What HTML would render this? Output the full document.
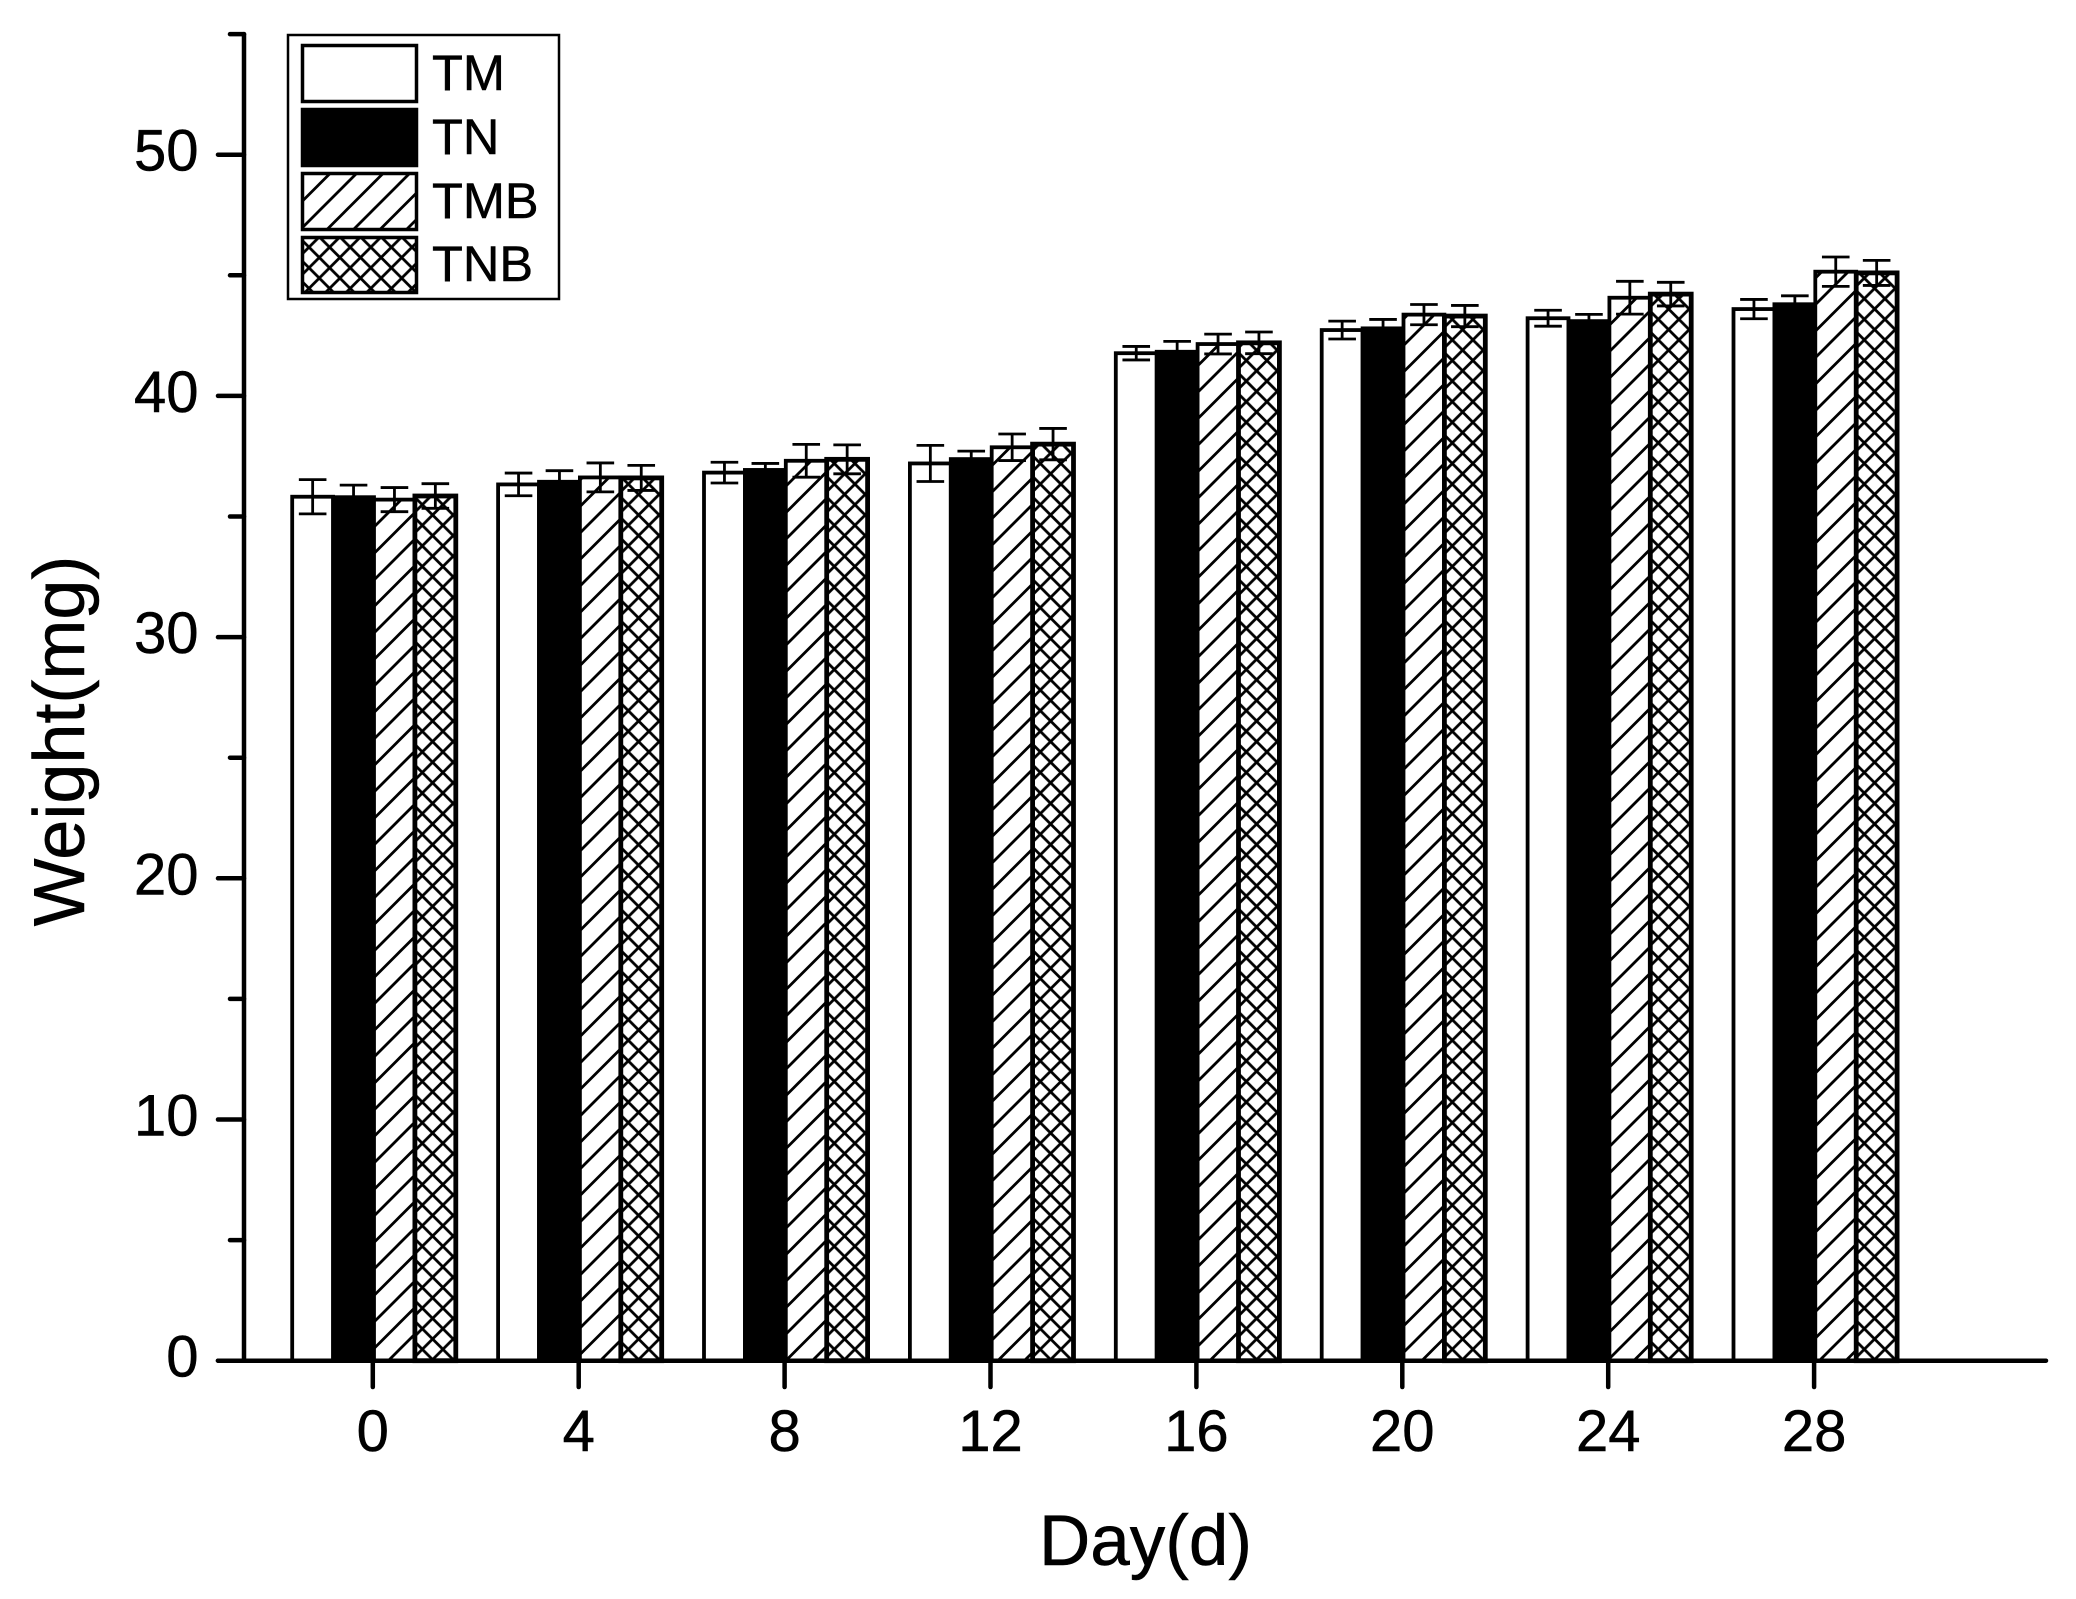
<!DOCTYPE html>
<html lang="en">
<head>
<meta charset="utf-8">
<title>Weight by Day</title>
<style>
html,body{margin:0;padding:0;background:#fff;}
svg{display:block;font-family:"Liberation Sans",Arial,sans-serif;fill:#000;}
text{stroke:#000;stroke-width:0.5px;}
</style>
</head>
<body>
<svg id="chart" xmlns="http://www.w3.org/2000/svg" width="2076" height="1599" viewBox="0 0 2076 1599">
  <defs>
    <pattern id="diag" patternUnits="userSpaceOnUse" width="26.5" height="26.5">
      <rect width="26.5" height="26.5" fill="#fff"/>
      <path d="M-4,30.5 L30.5,-4 M-4,4 L4,-4 M22.5,30.5 L30.5,22.5" stroke="#000" stroke-width="2.8" fill="none"/>
    </pattern>
    <pattern id="cross" patternUnits="userSpaceOnUse" width="20.6" height="20.6">
      <rect width="20.6" height="20.6" fill="#fff"/>
      <path d="M-2,22.6 L22.6,-2 M-2,2 L2,-2 M18.6,22.6 L22.6,18.6 M-2,-2 L22.6,22.6 M-2,18.6 L2,22.6 M18.6,-2 L22.6,2" stroke="#000" stroke-width="2.8" fill="none"/>
    </pattern>
  </defs>
  <rect width="2076" height="1599" fill="#fff"/>
  <g id="bars"></g>
  <g id="errors"></g>
  <g id="axes"></g>
  <text transform="translate(84,741) rotate(-90)" text-anchor="middle" font-size="72">Weight(mg)</text>
  <text x="1145.5" y="1565" text-anchor="middle" font-size="71">Day(d)</text>
  <g>
    <rect x="288" y="35" width="271" height="264" fill="#fff" stroke="#000" stroke-width="2.5"/>
    <rect x="302.5" y="45.5" width="114" height="56" fill="#fff" stroke="#000" stroke-width="3.5"/>
    <rect x="302.5" y="109.5" width="114" height="56" fill="#000" stroke="#000" stroke-width="3.5"/>
    <rect x="302.5" y="173.5" width="114" height="56" fill="url(#diag)" stroke="#000" stroke-width="3.5"/>
    <rect x="302.5" y="237.5" width="114" height="55" fill="url(#cross)" stroke="#000" stroke-width="3.5"/>
    <text x="432" y="90" font-size="50.5">TM</text>
    <text x="432" y="154" font-size="50.5">TN</text>
    <text x="432" y="218" font-size="50.5">TMB</text>
    <text x="432" y="281" font-size="50.5">TNB</text>
  </g>
</svg>
<script>
const days = [0, 4, 8, 12, 16, 20, 24, 28];
const seriesNames = ["tm", "tn", "tmb", "tnb"];
const tmValues = [35.82, 36.33, 36.82, 37.2, 41.77, 42.73, 43.22, 43.6];
const tnValues = [35.8, 36.44, 36.93, 37.38, 41.83, 42.8, 43.1, 43.8];
const tmbValues = [35.7, 36.62, 37.31, 37.87, 42.15, 43.37, 44.07, 45.15];
const tnbValues = [35.85, 36.6, 37.37, 38.0, 42.2, 43.31, 44.22, 45.1];
const tmErrors = [0.71, 0.47, 0.43, 0.75, 0.28, 0.37, 0.33, 0.4];
const tnErrors = [0.5, 0.46, 0.27, 0.33, 0.43, 0.37, 0.28, 0.35];
const tmbErrors = [0.5, 0.6, 0.68, 0.55, 0.41, 0.42, 0.68, 0.61];
const tnbErrors = [0.51, 0.52, 0.6, 0.65, 0.45, 0.44, 0.49, 0.52];
const yMajorTicks = [0, 10, 20, 30, 40, 50];
const yMinorTicks = [5, 15, 25, 35, 45, 55];

const allValues = [tmValues, tnValues, tmbValues, tnbValues];
const allErrors = [tmErrors, tnErrors, tmbErrors, tnbErrors];
const fills = ["#fff", "#000", "url(#diag)", "url(#cross)"];
const strokes = [3.8, 3.8, 3.8, 4.8];

const NS = "http://www.w3.org/2000/svg";
const yZero = 1360.7, yPerUnit = 24.12;
const xFirst = 372.8, xStep = 205.9, barWidth = 40.9;
function yScale(v) { return yZero - v * yPerUnit; }
function xScale(i) { return xFirst + i * xStep; }
function make(tag, attrs, parent) {
  const el = document.createElementNS(NS, tag);
  for (const k in attrs) el.setAttribute(k, attrs[k]);
  parent.appendChild(el);
  return el;
}
const barsG = document.getElementById("bars");
const errorsG = document.getElementById("errors");
const axesG = document.getElementById("axes");

days.forEach(function (day, i) {
  allValues.forEach(function (vals, s) {
    const left = xScale(i) + (s - 2) * barWidth;
    const top = yScale(vals[i]);
    const bar = make("rect", {x: left + 1.2, y: top, width: barWidth, height: yZero - top, fill: fills[s], stroke: "#000", "stroke-width": strokes[s]}, barsG);
    
    
  });
});

days.forEach(function (day, i) {
  allValues.forEach(function (vals, s) {
    const cx = xScale(i) + (s - 1.5) * barWidth + 1.2;
    const hi = yScale(vals[i] + allErrors[s][i]);
    const lo = yScale(vals[i] - allErrors[s][i]);
    const d = "M" + cx + "," + hi + "V" + lo + "M" + (cx - 13.8) + "," + hi + "H" + (cx + 13.8) + "M" + (cx - 13.8) + "," + lo + "H" + (cx + 13.8);
    const err = make("path", {d: d, stroke: "#000", "stroke-width": 2.8, fill: "none"}, errorsG);
    
    
  });
});

const yAxisLine = make("line", {x1: 244, x2: 244, y1: yScale(55), y2: yZero, stroke: "#000", "stroke-width": 4.5, "stroke-linecap": "round"}, axesG);


const xAxisLine = make("line", {x1: 218, x2: 2046, y1: yZero, y2: yZero, stroke: "#000", "stroke-width": 4.5, "stroke-linecap": "round"}, axesG);



yMajorTicks.forEach(function (v) {
  const tick = make("line", {x1: 218, x2: 244, y1: yScale(v), y2: yScale(v), stroke: "#000", "stroke-width": 4.5, "stroke-linecap": "round"}, axesG);
  
  
  const label = make("text", {x: 198.5, y: yScale(v) + 16, "text-anchor": "end", "font-size": 58}, axesG);
  label.textContent = String(v);
  
  
});
yMinorTicks.forEach(function (v) {
  const tick = make("line", {x1: 230, x2: 244, y1: yScale(v), y2: yScale(v), stroke: "#000", "stroke-width": 4.5, "stroke-linecap": "round"}, axesG);
  
  
});
days.forEach(function (day, i) {
  const tick = make("line", {x1: xScale(i), x2: xScale(i), y1: yZero, y2: 1387, stroke: "#000", "stroke-width": 4.5, "stroke-linecap": "round"}, axesG);
  
  
  const label = make("text", {x: xScale(i), y: 1451, "text-anchor": "middle", "font-size": 58}, axesG);
  label.textContent = String(day);
  
  
});
</script>
</body>
</html>
